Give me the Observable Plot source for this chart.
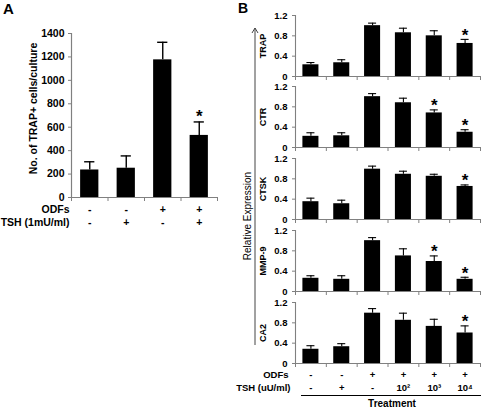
<!DOCTYPE html>
<html>
<head>
<meta charset="utf-8">
<script src="https://cdn.jsdelivr.net/npm/d3@7"></script>
<script src="https://cdn.jsdelivr.net/npm/@observablehq/plot@0.6"></script>
<style>
  html, body { margin: 0; padding: 0; background: #fff; }
  #root { position: relative; width: 482px; height: 408px; overflow: hidden; background: #fff;
          font-family: "Liberation Sans", Arial, Helvetica, sans-serif; }
  #root svg { position: absolute; }
</style>
</head>
<body>
<div id="root"></div>
<script>
// ---------- Panel A data ----------
const odfsA = ["-", "-", "+", "+"];
const tshA = ["-", "+", "-", "+"];
const trapCells = [235, 250, 1175, 530];
const trapCellsErr = [70, 105, 150, 115];
const sigA = [3];
const ticksA = [0, 200, 400, 600, 800, 1000, 1200, 1400];

// ---------- Panel B data ----------
const odfsB = ["-", "-", "+", "+", "+", "+"];
const tshB = ["-", "+", "-", "10²", "10³", "10⁴"];
const genes = ["TRAP", "CTR", "CTSK", "MMP-9", "CA2"];
const trapRel = [0.23, 0.27, 1.00, 0.86, 0.80, 0.65];
const trapErr = [0.045, 0.06, 0.05, 0.09, 0.10, 0.08];
const ctrRel = [0.22, 0.23, 1.00, 0.88, 0.68, 0.30];
const ctrErr = [0.07, 0.06, 0.06, 0.09, 0.06, 0.05];
const ctskRel = [0.35, 0.31, 0.99, 0.89, 0.85, 0.65];
const ctskErr = [0.07, 0.07, 0.06, 0.06, 0.04, 0.03];
const mmp9Rel = [0.26, 0.24, 1.00, 0.70, 0.59, 0.24];
const mmp9Err = [0.05, 0.07, 0.06, 0.14, 0.11, 0.04];
const ca2Rel = [0.28, 0.33, 0.99, 0.85, 0.73, 0.60];
const ca2Err = [0.07, 0.06, 0.09, 0.14, 0.14, 0.14];
const sigTrap = [5], sigCtr = [4, 5], sigCtsk = [5], sigMmp9 = [4, 5], sigCa2 = [5];
const ticksB = [0, 0.4, 0.8, 1.2];

// ---------- drawing ----------
const FONT = '"Liberation Sans", Arial, Helvetica, sans-serif';
const GREY = "#808080";
const root = document.getElementById("root");
function place(svg, left, top) {
  svg.style.position = "absolute";
  svg.style.left = left + "px";
  svg.style.top = top + "px";
  root.appendChild(svg);
}
function baseStyle(size) {
  return {fontFamily: FONT, fontSize: size, fontWeight: "bold", background: "none", overflow: "visible", color: "black"};
}
function barMarks(vals, errs, sig, halfBar, halfCap, sw, starDy) {
  const idx = d3.range(vals.length);
  return [
    Plot.rectY(idx, {x1: i => i + 0.5 - halfBar, x2: i => i + 0.5 + halfBar, y1: 0, y2: i => vals[i], fill: "black"}),
    Plot.ruleX(idx, {x: i => i + 0.5, y1: i => vals[i], y2: i => vals[i] + errs[i], stroke: "black", strokeWidth: sw}),
    Plot.ruleY(idx, {y: i => vals[i] + errs[i], x1: i => i + 0.5 - halfCap, x2: i => i + 0.5 + halfCap, stroke: "black", strokeWidth: sw}),
    Plot.text(sig, {x: i => i + 0.5, y: i => vals[i] + errs[i], text: () => "*", dy: starDy, fontSize: 17, fontWeight: "bold", textAnchor: "middle", lineAnchor: "middle"})
  ];
}
function label(str, opts) {
  return Plot.text([str], {text: d => d, textAnchor: "middle", lineAnchor: "middle", ...opts});
}
function row(arr, dy) {
  return Plot.text(arr, {x: (d, i) => i + 0.5, text: d => d, frameAnchor: "bottom", textAnchor: "middle", lineAnchor: "middle", dy});
}

// Panel A
const plotA = Plot.plot({
  width: 240, height: 240,
  marginLeft: 71, marginRight: 23, marginTop: 33, marginBottom: 43,
  x: {domain: [0, trapCells.length], axis: null},
  y: {domain: [0, 1400], axis: null},
  style: baseStyle("10.5px"),
  marks: [
    ...barMarks(trapCells, trapCellsErr, sigA, 0.25, 0.14, 1.4, -5),
    Plot.ruleY([0], {stroke: GREY, strokeWidth: 1.2}),
    Plot.ruleX([0], {stroke: GREY, strokeWidth: 1.2}),
    Plot.axisY({ticks: ticksA, tickFormat: "d", tickSize: 3, tickPadding: 4, stroke: GREY, fill: "black", label: null}),
    Plot.axisX({ticks: d3.range(trapCells.length + 1), tickFormat: () => "", tickSize: 4, stroke: GREY, label: null}),
    row(odfsA, 12),
    row(tshA, 25),
    label("ODFs", {frameAnchor: "bottom-left", textAnchor: "end", dx: -2, dy: 12}),
    label("TSH (1mU/ml)", {frameAnchor: "bottom-left", textAnchor: "end", dx: -2, dy: 25}),
    label("No. of TRAP+ cells/culture", {frameAnchor: "left", rotate: -90, dx: -38, dy: -7})
  ]
});
place(plotA, 0, 0);

// Panel B
const seriesB = [trapRel, ctrRel, ctskRel, mmp9Rel, ca2Rel];
const errsB = [trapErr, ctrErr, ctskErr, mmp9Err, ca2Err];
const sigsB = [sigTrap, sigCtr, sigCtsk, sigMmp9, sigCa2];
const frameTops = [15, 86, 158, 230, 302];
genes.forEach((gene, k) => {
  const last = k === genes.length - 1;
  const mb = last ? 46 : 6;
  const n = seriesB[k].length;
  const marks = [
    ...barMarks(seriesB[k], errsB[k], sigsB[k], 0.26, 0.13, 1.1, -4),
    Plot.ruleY([0], {stroke: GREY, strokeWidth: 1.1}),
    Plot.ruleX([0], {stroke: GREY, strokeWidth: 1.1}),
    Plot.axisY({ticks: ticksB, tickFormat: d => d === 0 ? "0" : d3.format(".1f")(d), tickSize: 3, tickPadding: 5, stroke: GREY, fill: "black", label: null}),
    Plot.axisX({ticks: d3.range(n + 1), tickFormat: () => "", tickSize: 4, stroke: GREY, label: null}),
    label(gene, {frameAnchor: "left", rotate: -90, dx: -32, fontSize: 9})
  ];
  if (last) {
    marks.push(
      row(odfsB, 11),
      row(tshB, 24),
      label("ODFs", {frameAnchor: "bottom-left", textAnchor: "end", dx: -7, dy: 11}),
      label("TSH (uU/ml)", {frameAnchor: "bottom-left", textAnchor: "end", dx: -5, dy: 24})
    );
  }
  const p = Plot.plot({
    width: 242, height: 10 + 61 + mb,
    marginLeft: 55, marginRight: 2, marginTop: 10, marginBottom: mb,
    x: {domain: [0, n], axis: null},
    y: {domain: [0, 1.2], axis: null},
    style: baseStyle("9.5px"),
    marks
  });
  place(p, 240, frameTops[k] - 10);
});

// Decorations: panel letters, arrow, treatment bracket
const deco = d3.select(root).append("svg")
  .attr("width", 482).attr("height", 408)
  .style("left", "0px").style("top", "0px")
  .attr("font-family", FONT);
deco.append("text").attr("x", 3).attr("y", 14).attr("font-size", 15).attr("font-weight", "bold").text("A");
deco.append("text").attr("x", 238).attr("y", 13).attr("font-size", 14).attr("font-weight", "bold").text("B");
deco.append("line").attr("x1", 255).attr("x2", 255).attr("y1", 28).attr("y2", 345).attr("stroke", "#444").attr("stroke-width", 1);
deco.append("polyline").attr("points", "252,33 255,28 258,33").attr("fill", "none").attr("stroke", "#444").attr("stroke-width", 1);
deco.append("text").attr("transform", "translate(247,216) rotate(-90)").attr("text-anchor", "middle")
  .attr("dy", "0.35em").attr("font-size", 10).text("Relative Expression");
deco.append("line").attr("x1", 301).attr("x2", 481).attr("y1", 395.5).attr("y2", 395.5).attr("stroke", "black").attr("stroke-width", 1);
deco.append("text").attr("x", 392).attr("y", 403.5).attr("text-anchor", "middle").attr("dy", "0.35em")
  .attr("font-size", 10).attr("font-weight", "bold").text("Treatment");
</script>
</body>
</html>
